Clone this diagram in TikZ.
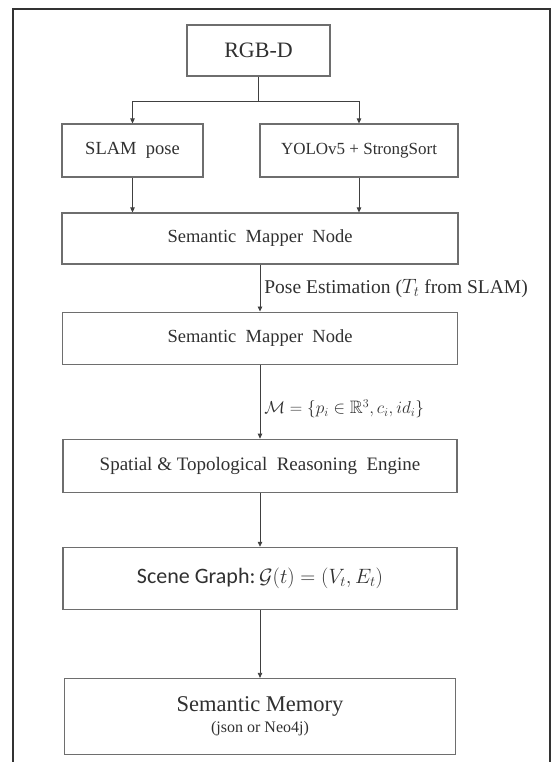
\documentclass[tikz,border=0pt]{standalone}
\usepackage{amsmath,amssymb}
\usepackage{fontspec}
\setmainfont{Liberation Serif}
\newfontfamily\carlito{Carlito}
\usepackage{tikz}
\usetikzlibrary{positioning,arrows.meta}
\usepackage{xcolor}
\definecolor{boxline}{HTML}{6E6E6E}
\definecolor{textgray}{HTML}{303030}

\begin{document}
\begin{tikzpicture}[x=1pt,y=1pt,
box/.style={rectangle,draw=boxline,line width=1.1pt,align=center,text=textgray,inner sep=2pt},
arrow/.style={-{Triangle[length=5pt,width=4.5pt]},line width=0.8pt,draw=black!75},
lbl/.style={text=textgray,inner sep=4pt}
]
\useasboundingbox (0,0) rectangle (552,-762);
\draw[line width=1.2pt,black!80] (13,-762) -- (13,-9) -- (550,-9) -- (550,-762);

\node[box,minimum width=143pt,minimum height=51pt,font=\fontsize{22}{26}\selectfont] (rgbd) at (258.5,-50.5) {RGB-D};
\node[box,minimum width=141pt,minimum height=53pt,font=\fontsize{18.5}{22}\selectfont] (slam) at (132.5,-150.5) {SLAM\ \ pose};
\node[box,minimum width=198pt,minimum height=53pt,font=\fontsize{17}{20}\selectfont] (yolo) at (359,-150.5) {YOLOv5 + StrongSort};
\node[box,minimum width=396pt,minimum height=51pt,font=\fontsize{18.5}{22}\selectfont] (map1) at (260,-238.5) {Semantic\ \ Mapper\ \ Node};
\node[box,minimum width=395pt,minimum height=52pt,font=\fontsize{18.5}{22}\selectfont,below=47pt of map1] (map2) {Semantic\ \ Mapper\ \ Node};
\node[box,minimum width=394pt,minimum height=53pt,font=\fontsize{19}{22}\selectfont,below=74pt of map2] (spatial) {Spatial \& Topological\ \ Reasoning\ \ Engine};
\node[box,minimum width=394pt,minimum height=62pt,font=\fontsize{22}{26}\selectfont,below=54pt of spatial] (scene) {{\carlito Scene Graph:}\,$\mathcal{G}(t) = (V_t, E_t)$};
\node[box,minimum width=391pt,minimum height=76pt,font=\fontsize{22.5}{26}\selectfont,below=68pt of scene] (memory) {Semantic Memory\\[-5pt]{\fontsize{16}{18}\selectfont (json or Neo4j)}};

\coordinate (split) at (258.5,-101);
\draw[line width=0.8pt,black!75] (rgbd) -- (split);
\draw[arrow] (split) -| (slam);
\draw[arrow] (split) -| (yolo);
\draw[arrow] (slam) -- (slam |- map1.north);
\draw[arrow] (yolo) -- (yolo |- map1.north);
\draw[arrow] (map1) -- node[lbl,right,font=\fontsize{19.5}{22}\selectfont] {Pose Estimation ($T_t$ from SLAM)} (map2);
\draw[arrow] (map2) -- node[lbl,right,pos=0.6,font=\fontsize{18}{21}\selectfont] {$\mathcal{M} = \{p_i \in \mathbb{R}^3, c_i, id_i\}$} (spatial);
\draw[arrow] (spatial) -- (scene);
\draw[arrow] (scene) -- (memory);
\end{tikzpicture}
\end{document}
